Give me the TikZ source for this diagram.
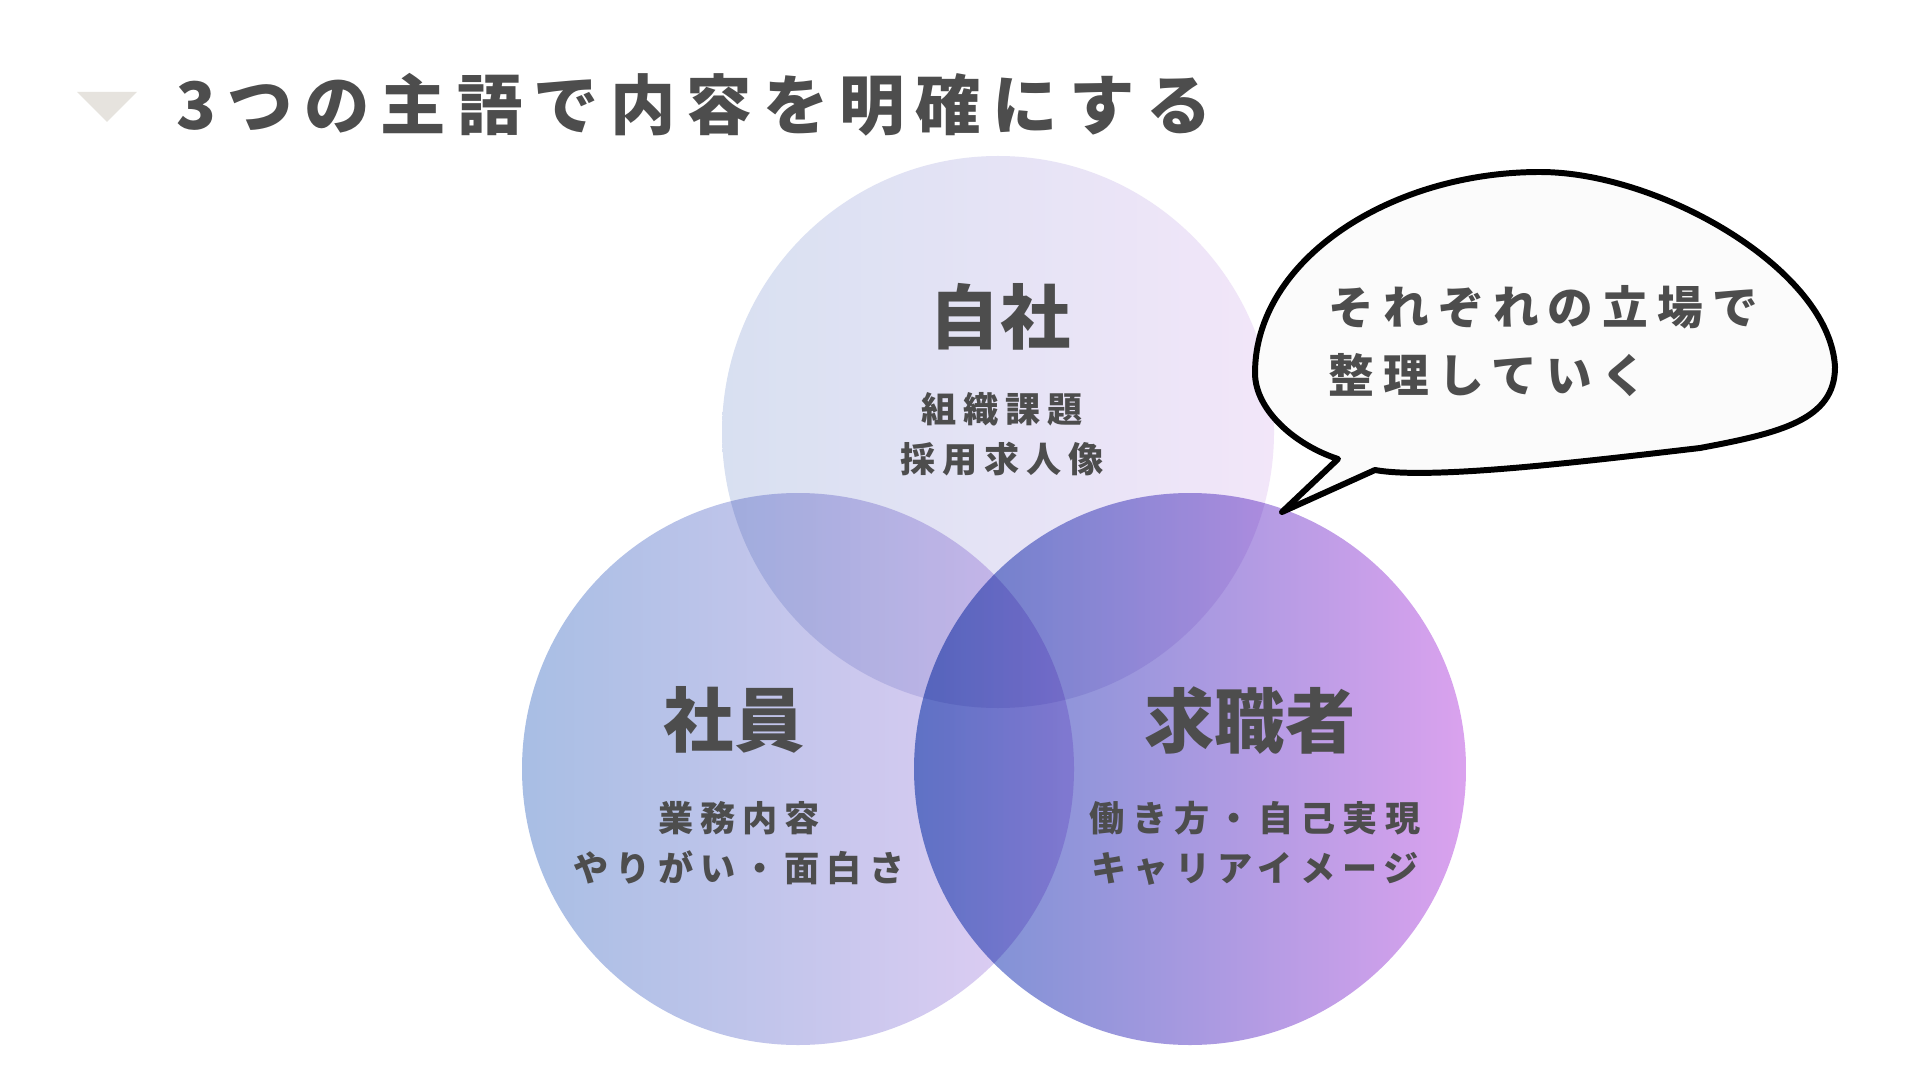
\documentclass[tikz,border=0pt]{standalone}
\usepackage{fontspec}
\usepackage{xcolor}
\usepackage{tikz}
\usetikzlibrary{positioning,calc}

\newfontfamily\jpfont{Noto Sans CJK JP}
\newfontfamily\jptitle{Noto Sans CJK JP}[LetterSpace=17]
\newfontfamily\jpsub{Noto Sans CJK JP}[LetterSpace=20]
\newfontfamily\jpbubble{Noto Sans CJK JP}[LetterSpace=20]

\definecolor{textGray}{HTML}{4D4D4D}
\definecolor{triGray}{HTML}{E6E3DE}
\definecolor{jishaL}{HTML}{D8E0F1}
\definecolor{jishaR}{HTML}{F2E6F9}
\definecolor{shainL}{HTML}{A8BEE4}
\definecolor{shainR}{HTML}{E2CEF4}
\definecolor{seekL}{HTML}{7490D2}
\definecolor{seekR}{HTML}{DAA2EE}
\definecolor{bubbleFill}{HTML}{FBFBFB}

\begin{document}
\begin{tikzpicture}[
    font=\jpfont,
    vennCircle/.style={
        circle, draw=none, inner sep=0pt, minimum size=5.52cm
    },
    titleText/.style={
        font=\jptitle\bfseries\fontsize{18.6}{22}\selectfont, text=textGray, inner sep=0pt
    },
    headLabel/.style={
        font=\jpfont\bfseries\fontsize{20}{24}\selectfont, text=textGray, inner sep=0pt
    },
    subLabel/.style={
        font=\jpsub\bfseries\fontsize{10}{14.2}\selectfont, text=textGray, align=center, inner sep=0pt
    },
    bubbleText/.style={
        font=\jpbubble\bfseries\fontsize{13}{19.3}\selectfont, text=textGray, align=left, inner sep=0pt
    },
    bubbleLine/.style={
        draw=black, line width=1.7pt, fill=bubbleFill, line join=round
    }
]

% Page frame
\useasboundingbox (0,0) rectangle (19.2,-10.8);
\fill[white] (0,0) rectangle (19.2,-10.8);

% Heading
\fill[triGray] (0.77,-0.92) -- (1.37,-0.92) -- (1.07,-1.22) -- cycle;
\node[titleText, anchor=west] (title) at (1.76,-1.05) {3つの主語で内容を明確にする};

% Three overlapping circles
\begin{scope}[blend mode=multiply]
\node[vennCircle, left color=jishaL, right color=jishaR] (jisha) at (9.98,-4.32) {};
\node[vennCircle, left color=shainL, right color=shainR] (shain) at (7.98,-7.69) {};
\node[vennCircle, left color=seekL, right color=seekR] (seeker) at (11.90,-7.69) {};
\end{scope}

% Labels in the circles
\node[headLabel] (jishaHead) at (10.00,-3.17) {自社};
\node[subLabel] (jishaSub) at (10.02,-4.34) {組織課題\\採用求人像};

\node[headLabel] (shainHead) at (7.34,-7.20) {社員};
\node[subLabel] (shainSub) at (7.39,-8.43) {業務内容\\やりがい・面白さ};

\node[headLabel] (seekerHead) at (12.50,-7.21) {求職者};
\node[subLabel] (seekerSub) at (12.55,-8.43) {働き方・自己実現\\キャリアイメージ};

% Speech bubble
\coordinate (tailTip) at (12.82,-5.12);
\coordinate (tailR) at (13.75,-4.70);
\coordinate (tailL) at (13.38,-4.59);
\coordinate (bubbleB) at (17.00,-4.48);
\coordinate (bubbleE) at (18.35,-3.67);
\coordinate (bubbleTop) at (15.40,-1.72);
\coordinate (bubbleW) at (12.55,-3.73);

\draw[bubbleLine] (tailTip) -- (tailR)
    .. controls (14.3,-4.80) and (15.8,-4.62) .. (bubbleB)
    .. controls (17.8,-4.33) and (18.35,-4.2) .. (bubbleE)
    .. controls (18.3,-2.7) and (16.6,-1.72) .. (bubbleTop)
    .. controls (13.9,-1.72) and (12.55,-2.6) .. (bubbleW)
    .. controls (12.55,-4.1) and (12.95,-4.45) .. (tailL)
    -- cycle;

\node[bubbleText, anchor=west] (bubbleMsg) at (13.28,-3.41) {それぞれの立場で\\整理していく};

\end{tikzpicture}
\end{document}
